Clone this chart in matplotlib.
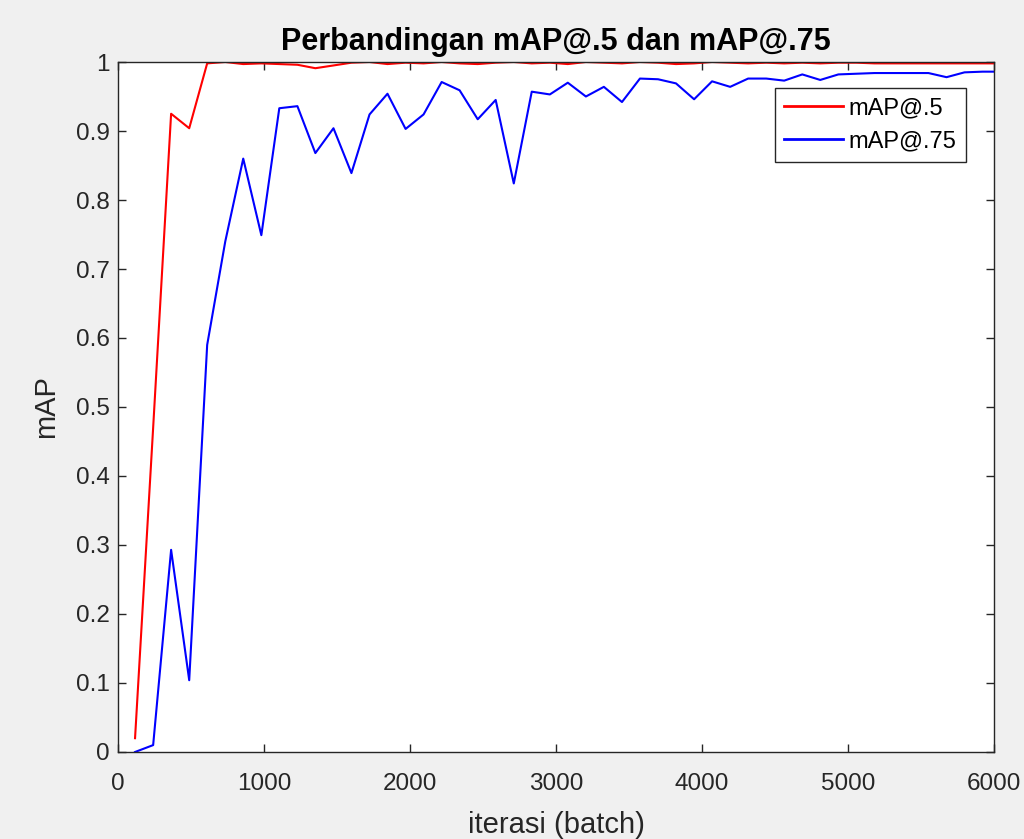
import numpy as np
import matplotlib
matplotlib.use("Agg")
import matplotlib.pyplot as plt

plt.rcParams['font.family'] = ['Liberation Sans', 'DejaVu Sans']

# iteration of each evaluation (batch)
iterasi = [117, 241, 364, 488, 611, 735, 858, 982, 1105, 1229,
           1352, 1476, 1599, 1723, 1846, 1970, 2093, 2217, 2340, 2464,
           2587, 2711, 2834, 2958, 3081, 3205, 3328, 3452, 3575, 3699,
           3822, 3946, 4069, 4193, 4316, 4440, 4563, 4687, 4810, 4934,
           5057, 5181, 5304, 5428, 5551, 5675, 5798, 5922, 6045]

map50 = [0.02, 0.47, 0.925, 0.904, 0.998, 1.0, 0.997, 0.998, 0.997, 0.996,
         0.991, 0.995, 0.999, 1.0, 0.997, 0.999, 0.998, 1.0, 0.998, 0.997,
         0.999, 1.0, 0.998, 0.999, 0.997, 1.0, 0.999, 0.998, 1.0, 0.999,
         0.997, 0.998, 1.0, 0.999, 0.998, 0.999, 0.998, 0.999, 0.998, 0.999,
         0.999, 0.998, 0.998, 0.998, 0.998, 0.998, 0.998, 0.998, 0.998]

map75 = [0.0, 0.01, 0.293, 0.104, 0.59, 0.74, 0.86, 0.749, 0.933, 0.936,
         0.868, 0.904, 0.839, 0.924, 0.954, 0.903, 0.924, 0.971, 0.959, 0.917,
         0.945, 0.824, 0.957, 0.953, 0.970, 0.950, 0.964, 0.942, 0.976, 0.975,
         0.969, 0.946, 0.972, 0.964, 0.976, 0.976, 0.973, 0.982, 0.974, 0.982,
         0.983, 0.984, 0.984, 0.984, 0.984, 0.978, 0.985, 0.986, 0.986]

fig = plt.figure(figsize=(10.24, 8.39), dpi=100, facecolor='#f0f0f0')
ax = fig.add_axes([0.1152, 0.1037, 0.8555, 0.8224])

ax.plot(iterasi, map50, color='#ff0000', lw=1.5, label='mAP@.5')
ax.plot(iterasi, map75, color='#0000ff', lw=1.5, label='mAP@.75')

ax.set_xlim(0, 6000)
ax.set_ylim(0, 1)
ax.set_xticks(np.arange(0, 6001, 1000))
ax.set_yticks(np.arange(0, 1.01, 0.1))
ax.set_yticklabels(['0', '0.1', '0.2', '0.3', '0.4', '0.5', '0.6', '0.7', '0.8', '0.9', '1'])
ax.tick_params(direction='in', top=True, right=True, length=6, width=1,
               labelsize=17.5, colors='#262626')
ax.tick_params(axis='x', pad=15)
ax.tick_params(axis='y', pad=6)
for s in ax.spines.values():
    s.set_color('#262626')
    s.set_linewidth(1)

ax.set_xlabel('iterasi (batch)', fontsize=21, color='#262626', labelpad=12)
ax.set_ylabel('mAP', fontsize=21, color='#262626', labelpad=11)
ax.set_title('Perbandingan mAP@.5 dan mAP@.75', fontsize=22, fontweight='bold',
             color='black', pad=9)

leg = ax.legend(loc='upper right', bbox_to_anchor=(0.968, 0.962), borderaxespad=0,
                fontsize=17, fancybox=False, framealpha=1, edgecolor='#262626',
                handlelength=2.5, handletextpad=0.22, borderpad=0.4,
                labelspacing=0.45)
leg.get_frame().set_linewidth(1)
for ln in leg.get_lines():
    ln.set_linewidth(2)

fig.savefig('out.png', dpi=100, facecolor=fig.get_facecolor())
